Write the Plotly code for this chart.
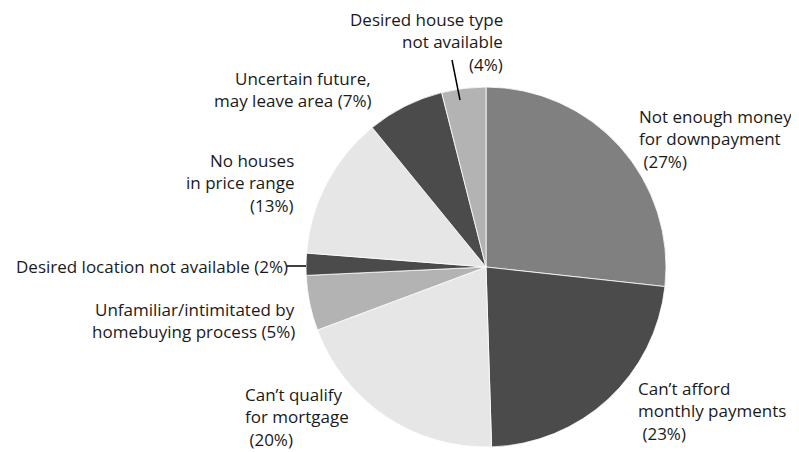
import plotly.graph_objects as go

categories = [
    "Not enough money for downpayment",
    "Can't afford monthly payments",
    "Can't qualify for mortgage",
    "Unfamiliar/intimitated by homebuying process",
    "Desired location not available",
    "No houses in price range",
    "Uncertain future, may leave area",
    "Desired house type not available",
]
values = [27, 23, 20, 5, 2, 13, 7, 4]
colors = ["#808080", "#4b4b4b", "#e6e6e6", "#b3b3b3", "#4b4b4b", "#e6e6e6", "#4b4b4b", "#b3b3b3"]

# label text lines (as displayed)
label_lines = [
    ["Not enough money", "for downpayment", " (27%)"],
    ["Can\u2019t afford", "monthly payments", " (23%)"],
    ["Can\u2019t qualify", "for mortgage", " (20%)"],
    ["Unfamiliar/intimitated by", "homebuying process (5%)"],
    ["Desired location not available (2%)"],
    ["No houses", "in price range", "(13%)"],
    ["Uncertain future,", "may leave area (7%)"],
    ["Desired house type", "not available", "(4%)"],
]

OFF = 8  # page body margin
W, H = 799 - OFF, 452 - OFF
cx, cy, r = 486 - OFF, 267 - OFF, 180

fig = go.Figure()
fig.add_trace(go.Pie(
    labels=categories, values=values, sort=False, direction="clockwise",
    rotation=0, marker=dict(colors=colors, line=dict(color="white", width=0.8)),
    textinfo="none", hoverinfo="label+percent", showlegend=False,
    domain=dict(x=[(cx - r) / W, (cx + r) / W], y=[1 - (cy + r) / H, 1 - (cy - r) / H]),
))

# label placement in screenshot px: (x anchor, first line y, align)
placements = [
    (637, 116, "left"),
    (636, 388, "left"),
    (243, 394, "left"),
    (297, 309, "right"),
    (290, 266, "right"),
    (296, 160, "right"),
    (373, 78, "right"),
    (505, 19, "right"),
]
line_gap = 22.5
font = dict(family="Open Sans, sans-serif", size=17, color="#1a1a1a")
for lines, (x, y0, al) in zip(label_lines, placements):
    for i, t in enumerate(lines):
        fig.add_annotation(x=x - OFF, y=y0 + i * line_gap - OFF, xref="x", yref="y", text=t,
                           showarrow=False, xanchor=al, yanchor="middle", font=font)

# leader lines
fig.add_shape(type="line", x0=287 - OFF, y0=266 - OFF, x1=306 - OFF, y1=266 - OFF, xref="x", yref="y",
              line=dict(color="black", width=1.5))
fig.add_shape(type="line", x0=452 - OFF, y0=60 - OFF, x1=460 - OFF, y1=100 - OFF, xref="x", yref="y",
              line=dict(color="black", width=1.5))

fig.update_layout(
    width=W, height=H, margin=dict(l=0, r=0, t=0, b=0),
    paper_bgcolor="white", plot_bgcolor="white",
    xaxis=dict(range=[0, W], visible=False, fixedrange=True),
    yaxis=dict(range=[H, 0], visible=False, fixedrange=True),
)
fig.write_html("out.html")
